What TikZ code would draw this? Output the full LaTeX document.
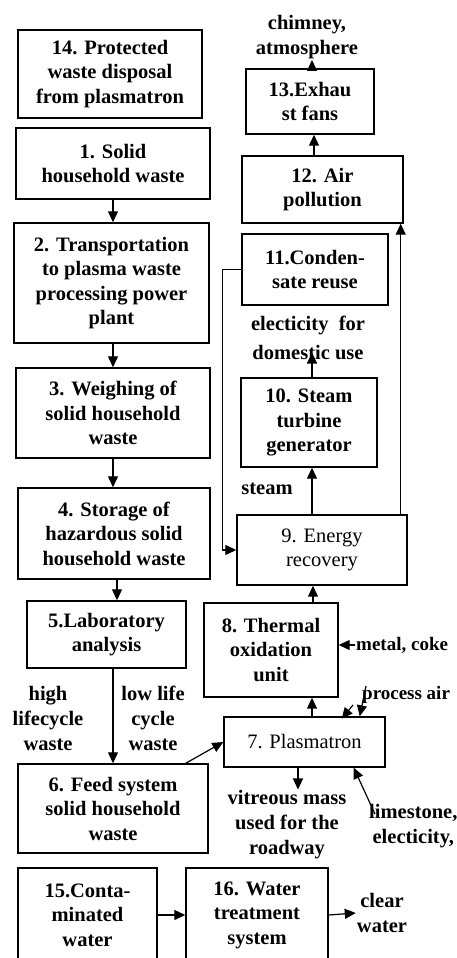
\documentclass[tikz,border=0pt]{standalone}
\usepackage{fontspec}
\setmainfont{Liberation Serif}
\usetikzlibrary{arrows.meta}
\begin{document}
\begin{tikzpicture}[x=1pt,y=-1pt,
  box/.style={draw, line width=1.4pt, rectangle, align=center, inner sep=1pt,
    font=\bfseries\fontsize{20.5}{24.5}\selectfont},
  rbox/.style={box, font=\fontsize{20.5}{24.5}\selectfont},
  lbl/.style={align=center, inner sep=1pt, font=\bfseries\fontsize{20.5}{25}\selectfont},
  slbl/.style={lbl, font=\bfseries\fontsize{19}{24}\selectfont},
  arr/.style={-{Triangle[length=11pt,width=10pt]}, line width=1.2pt}]
\useasboundingbox (0,0) rectangle (457,958);
% left column
\node[box, minimum width=184pt, minimum height=88pt] (b14) at (110,74) {14. Protected\\waste disposal\\from plasmatron};
\node[box, minimum width=194pt, minimum height=71pt] (b1) at (113,163.5) {1. Solid\\household waste};
\node[box, minimum width=195pt, minimum height=120pt] (b2) at (111.5,283) {2. Transportation\\to plasma waste\\processing power\\plant};
\node[box, minimum width=194pt, minimum height=90pt] (b3) at (113,413) {3. Weighing of\\solid household\\waste};
\node[box, minimum width=192pt, minimum height=91pt] (b4) at (114,533.5) {4. Storage of\\hazardous solid\\household waste};
\node[box, minimum width=159pt, minimum height=67pt] (b5) at (106.5,634.5) {5.Laboratory\\analysis};
\node[box, minimum width=190pt, minimum height=89pt] (b6) at (113,808.5) {6. Feed system\\solid household\\waste};
\node[box, minimum width=139pt, minimum height=94pt] (b15) at (87.5,915) {15.Conta-\\minated\\water};
\node[box, minimum width=142pt, minimum height=94pt] (b16) at (257,915) {16. Water\\treatment\\system};
% right column
\node[box, minimum width=128pt, minimum height=65pt] (b13) at (310,101.5) {13.Exhau\\st fans};
\node[box, minimum width=161pt, minimum height=67pt] (b12) at (322.5,189.5) {12. Air\\pollution};
\node[box, minimum width=146pt, minimum height=71pt] (b11) at (315,269.5) {11.Conden-\\sate reuse};
\node[box, minimum width=136pt, minimum height=89pt] (b10) at (309,422.5) {10. Steam\\turbine\\generator};
\node[rbox, minimum width=170pt, minimum height=70pt] (b9) at (322,550) {9. Energy\\recovery};
\node[box, minimum width=134pt, minimum height=94pt] (b8) at (271,650) {8. Thermal\\oxidation\\unit};
\node[rbox, minimum width=161pt, minimum height=50pt] (b7) at (304.5,742) {7. Plasmatron};
% labels
\node[lbl] (chim) at (307,37) {chimney,\\atmosphere};
\node[lbl] (elec) at (308,337.5) {electicity\ \ for\\[4pt]domestic use};
\node[lbl] (steam) at (267,489) {steam};
\node[slbl, anchor=west] (metal) at (355,645) {metal, coke};
\node[slbl, anchor=west] (air) at (361,695) {process air};
\node[lbl] (vitr) at (287,825) {vitreous mass\\used for the\\roadway};
\node[lbl, anchor=west] (lime) at (368,826) {limestone,\\electicity,};
\node[lbl] (high) at (48,718) {high\\lifecycle\\waste};
\node[lbl] (low) at (153,718) {low life\\cycle\\waste};
\node[lbl] (clear) at (382,913) {clear\\water};
% connectors left column
\draw[arr] (b1.south) -- (b1.south |- b2.north);
\draw[arr] ([xshift=1.5pt]b2.south) -- ([xshift=1.5pt]b2.south |- b3.north);
\draw[arr] (b3.south) -- (b3.south |- b4.north);
\draw[arr] ([xshift=3pt]b4.south) -- ([xshift=3pt]b4.south |- b5.north);
\draw[arr] (b6.north |- b5.south) -- (b6.north);
\draw[arr] ([xshift=-23pt]b6.north east) -- (b7.west);
\draw[arr] (b15.east) -- (b16.west);
\draw[arr] (b16.east) -- (clear.west);
% connectors right column
\draw[arr] ([xshift=7.5pt]b7.north) -- ([xshift=7.5pt]b7.north |- b8.south);
\draw[arr] ([xshift=42pt]b8.north) -- ([xshift=42pt]b8.north |- b9.south);
\draw[arr] ([xshift=3pt]b10.south |- b9.north) -- ([xshift=3pt]b10.south);
\draw[arr] ([xshift=3pt]b10.north) -- ([xshift=3pt]b10.north |- elec.south) -- ++(0,-8);
\draw[arr] ([xshift=-7pt]b9.north east) -- ([xshift=-7pt]b9.north east |- b12.south);
\draw[arr] ([xshift=4pt]b13.south |- b12.north) -- ([xshift=4pt]b13.south);
\draw[arr] ([xshift=2pt]b13.north) -- ([xshift=2pt]b13.north |- chim.south);
\draw[arr] (b11.west) -- ++(-19,0) |- (b9.west);
\draw[arr] (metal.west) -- (metal.west -| b8.east);
\draw[arr] ([shift={(-8pt,-10pt)}]air.west) -- ([shift={(3pt,-21pt)}]b8.south east);
\draw[arr] ([shift={(5pt,9pt)}]air.west) -- ([xshift=-26pt]b7.north east);
\draw[arr] ([shift={(7pt,12pt)}]lime.west) -- ([xshift=-32pt]b7.south east);
\draw[arr] ([xshift=-6.5pt]b7.south) -- ([xshift=-6.5pt]b7.south |- vitr.north);
\end{tikzpicture}
\end{document}
